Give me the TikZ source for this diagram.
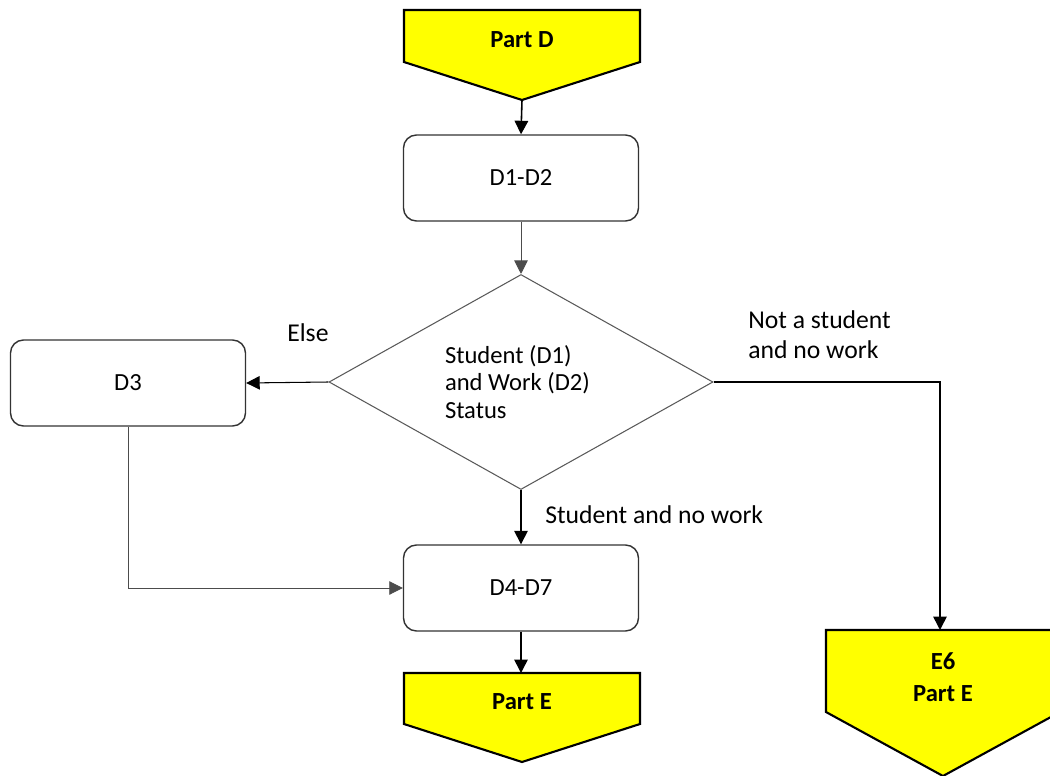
\documentclass[tikz,border=0pt]{standalone}
\usepackage{fontspec}
\setmainfont{Carlito}
\usetikzlibrary{arrows.meta,shapes.geometric,positioning}

\begin{document}
\begin{tikzpicture}[x=0.2mm,y=-0.2mm,font=\fontsize{14}{16.5}\selectfont,
    box/.style={draw=black!80,line width=0.8pt,rounded corners=2.6mm,
      minimum width=47mm,minimum height=17.2mm},
    decision/.style={diamond,draw=black!65,line width=0.6pt,aspect=1.8,
      minimum width=76.8mm,minimum height=43mm,inner sep=0pt,align=flush left,
      text width=30.4mm,font=\fontsize{14}{15.5}\selectfont},
    offpage/.style={fill=partfill,draw=black,line width=1.2pt,line join=miter},
    conn/.style={-{Triangle[length=2.7mm,width=2.7mm]},line width=0.9pt,black},
    thinconn/.style={-{Triangle[length=2.7mm,width=2.7mm]},line width=0.5pt,black!70},
    lbl/.style={align=left,anchor=west,inner sep=0pt,
      font=\fontsize{14.6}{17}\selectfont}]

  % Define colors
  \definecolor{partfill}{RGB}{255,255,0}

  \clip (0,0) rectangle (1050,776);

  % off-page connector at the top
  \filldraw[offpage] (404,10) -- (640,10) -- (640,62) -- (522,100) -- (404,62) -- cycle;
  \node[font=\fontsize{14}{16.5}\bfseries] (partD) at (522,40) {Part D};
  \coordinate (partDtip) at (522,100);

  % off-page connectors at the bottom
  \filldraw[offpage] (404,673) -- (640,673) -- (640,724) -- (522,762) -- (404,724) -- cycle;
  \node[font=\fontsize{14}{16.5}\bfseries] (partE) at (522,702) {Part E};
  \coordinate (partEtop) at (521,673);

  \filldraw[offpage] (826,630) -- (1060,630) -- (1060,712) -- (943,776) -- (826,712) -- cycle;
  \node[font=\fontsize{14}{18}\bfseries,align=center] (partEsix) at (943,677) {E6\\Part E};
  \coordinate (partEsixtop) at (940,630);

  % process boxes
  \node[box] (dOneTwo) at (521,178) {D1-D2};
  \node[box] (dThree) at (128,383) {D3};
  \node[box] (dFourSeven) at (521,588) {D4-D7};

  % decision
  \node[decision] (status) at (521,382) {Student (D1)\\and Work (D2)\\Status};

  % connectors
  \draw[conn] (partDtip) -- (dOneTwo.north);
  \draw[thinconn] (dOneTwo.south) -- (status.north);
  \draw[conn,line width=0.6pt] (status.west) -- (dThree.east);
  \draw[thinconn] (dThree.south) |- (dFourSeven.west);
  \draw[conn] (status.south) -- (dFourSeven.north);
  \draw[conn] (status.east) -| (partEsixtop);
  \draw[conn] (dFourSeven.south) -- (partEtop);

  % branch labels
  \node[lbl] (elseLbl) at (287,333) {Else};
  \node[lbl] (studentLbl) at (545,515) {Student and no work};
  \node[lbl] (noStudentLbl) at (748,335) {Not a student\\and no work};

\end{tikzpicture}
\end{document}
